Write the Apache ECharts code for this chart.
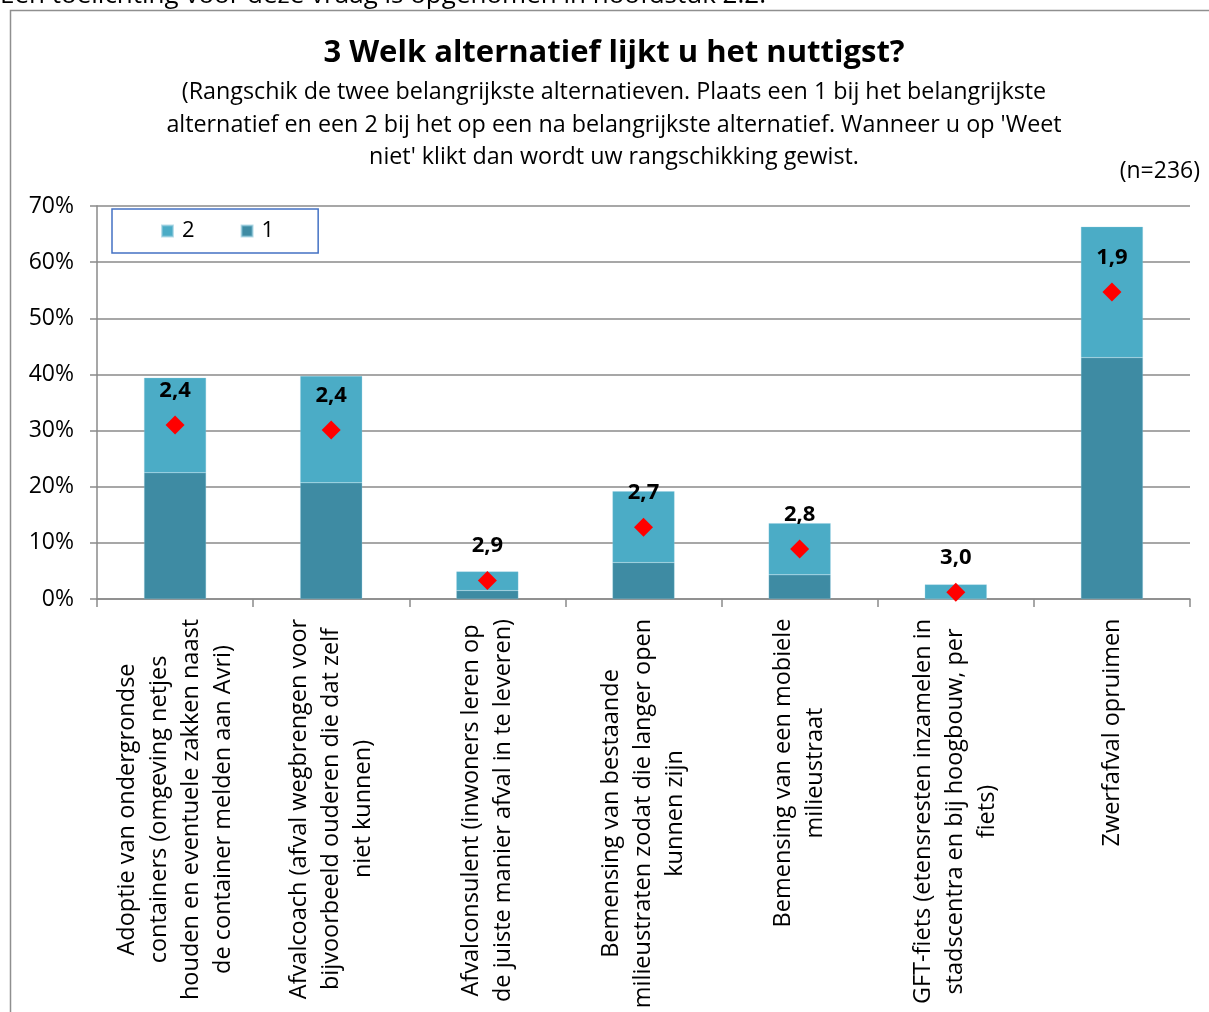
<!DOCTYPE html>
<html>
<head>
<meta charset="utf-8">
<script src="https://cdn.jsdelivr.net/npm/echarts@6/dist/echarts.min.js"></script>
<style>
html,body{margin:0;padding:0;background:#fff;}
#chart{width:1209px;height:1012px;}
</style>
</head>
<body>
<div id="chart"></div>
<script>
// ---- data ----
var categories = [
  "Adoptie van ondergrondse\ncontainers (omgeving netjes\nhouden en eventuele zakken naast\nde container melden aan Avri)",
  "Afvalcoach (afval wegbrengen voor\nbijvoorbeeld ouderen die dat zelf\nniet kunnen)",
  "Afvalconsulent (inwoners leren op\nde juiste manier afval in te leveren)",
  "Bemensing van bestaande\nmilieustraten zodat die langer open\nkunnen zijn",
  "Bemensing van een mobiele\nmilieustraat",
  "GFT-fiets (etensresten inzamelen in\nstadscentra en bij hoogbouw, per\nfiets)",
  "Zwerfafval opruimen"
];
var rank1 = [22.5, 20.7, 1.5, 6.5, 4.3, 0, 43.0];      // "1" (%)
var rank2 = [16.9, 19.0, 3.4, 12.7, 9.2, 2.6, 23.3];   // "2" (%)
var markerValues = [31.0, 30.1, 3.3, 12.8, 8.9, 1.2, 54.7]; // red diamonds (%)
var meanRank = [2.4, 2.4, 2.9, 2.7, 2.8, 3.0, 1.9];
var yTicks = [0, 10, 20, 30, 40, 50, 60, 70];
var titleText = "3 Welk alternatief lijkt u het nuttigst?";
var subtitleLines = [
  "(Rangschik de twee belangrijkste alternatieven. Plaats een 1 bij het belangrijkste",
  "alternatief en een 2 bij het op een na belangrijkste alternatief. Wanneer u op 'Weet",
  "niet' klikt dan wordt uw rangschikking gewist."
];
var nText = "(n=236)";
var topNote = "Een toelichting voor deze vraag is opgenomen in hoofdstuk 2.2.";

// ---- styling ----
var FONT = "Open Sans";
var LABEL_SIZE = 23.5;
var c1 = "#3E8BA3", c2 = "#4BACC6";

var cv = document.createElement("canvas").getContext("2d");
cv.font = LABEL_SIZE + "px '" + FONT + "'";
var rich = {};
categories.forEach(function (c, i) {
  var w = 0;
  c.split("\n").forEach(function (l) { w = Math.max(w, cv.measureText(l).width); });
  rich["c" + i] = { width: Math.ceil(w) + 1, align: "center", fontSize: LABEL_SIZE, fontFamily: FONT, color: "#000", lineHeight: 32 };
});

var chart = echarts.init(document.getElementById("chart"), null, { renderer: "canvas" });
var gridColor = "#8a8a8a";
var option = {
  animation: false,
  textStyle: { fontFamily: FONT },
  grid: { left: 97, right: 19, top: 206, bottom: 412 },
  legend: {
    data: ["2", "1"],
    left: 112, top: 209,
    orient: "horizontal",
    icon: "rect",
    itemWidth: 11, itemHeight: 11,
    itemGap: 46,
    padding: [10, 44, 10, 49],
    borderColor: "#4472C4", borderWidth: 1.5,
    textStyle: { fontSize: 22, lineHeight: 24, fontFamily: FONT, color: "#000", padding: [0, 0, 0, 4] }
  },
  xAxis: {
    type: "category",
    data: categories,
    axisLine: { lineStyle: { color: gridColor, width: 1.5 } },
    axisTick: { show: true, length: 8, alignWithLabel: false, lineStyle: { color: gridColor, width: 1.5 } },
    axisLabel: {
      interval: 0, rotate: 90, margin: 19,
      formatter: function (v, i) {
        return v.split("\n").map(function (l) { return "{c" + i + "|" + l + "}"; }).join("\n");
      },
      rich: rich
    }
  },
  yAxis: {
    type: "value",
    min: 0, max: 70, interval: 10,
    axisLine: { show: true, lineStyle: { color: gridColor, width: 1.5 } },
    axisTick: { show: true, length: 7, lineStyle: { color: gridColor, width: 1.5 } },
    splitLine: { lineStyle: { color: gridColor, width: 1.5 } },
    axisLabel: {
      margin: 23, fontSize: 23, fontFamily: FONT, color: "#000",
      formatter: function (v) { return yTicks.indexOf(v) >= 0 ? v + "%" : ""; }
    }
  },
  series: [
    {
      name: "1", type: "bar", stack: "s", data: rank1, barWidth: 62,
      itemStyle: { color: c1, borderColor: "rgba(140,200,220,0.6)", borderWidth: 0.5 }
    },
    {
      name: "2", type: "bar", stack: "s", data: rank2, barWidth: 62,
      itemStyle: { color: c2, borderColor: "rgba(140,200,220,0.6)", borderWidth: 0.5 }
    },
    {
      name: "gem", type: "scatter", data: markerValues, symbol: "diamond", symbolSize: 19,
      itemStyle: { color: "#FF0000", opacity: 1 }, z: 5,
      label: {
        show: true, position: "top", distance: 14, opacity: 1,
        fontSize: 22, fontWeight: "bold", fontFamily: FONT, color: "#000",
        formatter: function (p) { return meanRank[p.dataIndex].toFixed(1).replace(".", ","); }
      }
    }
  ],
  graphic: [
    { type: "rect", shape: { x: 10.5, y: 10.5, width: 1220, height: 1020 }, style: { fill: null, stroke: "#8f8f8f", lineWidth: 1.5 }, silent: true },
    { type: "text", x: 0, y: 9, style: { text: topNote, font: "26px '" + FONT + "'", fill: "#000", textAlign: "left", textVerticalAlign: "bottom" } },
    { type: "text", x: 614, y: 53, style: { text: titleText, font: "bold 31px '" + FONT + "'", fill: "#000", textAlign: "center", textVerticalAlign: "middle" } },
    { type: "text", x: 614, y: 92, style: { text: subtitleLines[0], font: "23.3px '" + FONT + "'", fill: "#000", textAlign: "center", textVerticalAlign: "middle" } },
    { type: "text", x: 614, y: 125, style: { text: subtitleLines[1], font: "23.3px '" + FONT + "'", fill: "#000", textAlign: "center", textVerticalAlign: "middle" } },
    { type: "text", x: 614, y: 157, style: { text: subtitleLines[2], font: "23.3px '" + FONT + "'", fill: "#000", textAlign: "center", textVerticalAlign: "middle" } },
    { type: "text", x: 1200, y: 171, style: { text: nText, font: "23px '" + FONT + "'", fill: "#000", textAlign: "right", textVerticalAlign: "middle" } }
  ]
};
chart.setOption(option);
</script>
</body>
</html>
